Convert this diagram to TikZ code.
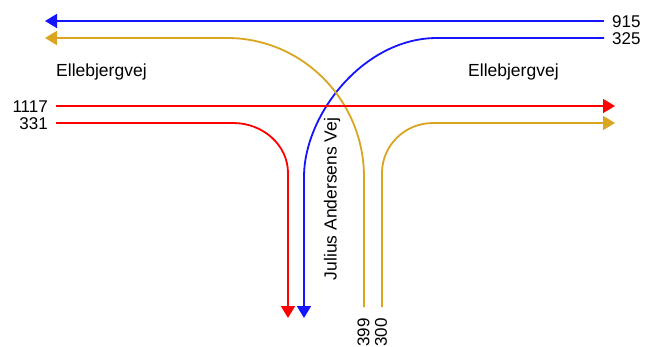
\documentclass[tikz,border=0pt]{standalone}
\usepackage{fontspec}
\setmainfont{Liberation Sans}
\usetikzlibrary{arrows.meta}
\definecolor{cblue}{RGB}{20,20,255}
\definecolor{cred}{RGB}{255,0,0}
\definecolor{corange}{RGB}{218,165,32}
\begin{document}
\begin{tikzpicture}[x=1pt,y=-1pt,
  flow/.style={line width=1.8pt,-{Triangle[length=12pt,width=14pt]}},
  lbl/.style={inner sep=0pt,font=\fontsize{17}{20}\selectfont},
  road/.style={inner sep=0pt,font=\fontsize{17.5}{20}\selectfont}]
\useasboundingbox[fill=white] (0,0) rectangle (657,346);
% coordinates
\coordinate (b1s) at (604,21);
\coordinate (b1e) at (45,21);
\coordinate (b2s) at (604,38);
\coordinate (b2a) at (437,38);
\coordinate (b2b) at (304,177);
\coordinate (b2e) at (304,318);
\coordinate (r1s) at (56,106);
\coordinate (r1e) at (615,106);
\coordinate (r2s) at (56,123);
\coordinate (r2a) at (233,123);
\coordinate (r2b) at (288,173);
\coordinate (r2e) at (288,318);
\coordinate (o1s) at (364,307);
\coordinate (o1a) at (364,177);
\coordinate (o1b) at (227,38);
\coordinate (o1e) at (45,38);
\coordinate (o2s) at (382,307);
\coordinate (o2a) at (382,173);
\coordinate (o2b) at (433,123);
\coordinate (o2e) at (615,123);
% flows
\draw[flow,cblue] (b1s) -- (b1e);
\draw[flow,cblue] (b2s) -- (b2a) .. controls (363.6,38) and (304,114.7) .. (b2b) -- (b2e);
\draw[flow,corange] (o1s) -- (o1a) .. controls (364,100.3) and (302.6,38) .. (o1b) -- (o1e);
\draw[flow,corange] (o2s) -- (o2a) .. controls (382,145.4) and (404.8,123) .. (o2b) -- (o2e);
\draw[flow,cred] (r2s) -- (r2a) .. controls (263.4,123) and (288,145.4) .. (r2b) -- (r2e);
\draw[flow,cred] (r1s) -- (r1e);
% labels
\node[lbl,anchor=west] (l915) at (612,21.5) {915};
\node[lbl,anchor=west] (l325) at (612,38.5) {325};
\node[lbl,anchor=east] (l1117) at (48,106.5) {1117};
\node[lbl,anchor=east] (l331) at (48,123.5) {331};
\node[lbl,anchor=east,rotate=90] (l399) at (363.5,318) {399};
\node[lbl,anchor=east,rotate=90] (l300) at (381,318) {300};
\node[road,anchor=base west] (ell1) at (56,76) {Ellebjergvej};
\node[road,anchor=base west] (ell2) at (468,76) {Ellebjergvej};
\node[road,anchor=base,rotate=90] (jav) at (336.5,199) {Julius Andersens Vej};
\end{tikzpicture}
\end{document}
